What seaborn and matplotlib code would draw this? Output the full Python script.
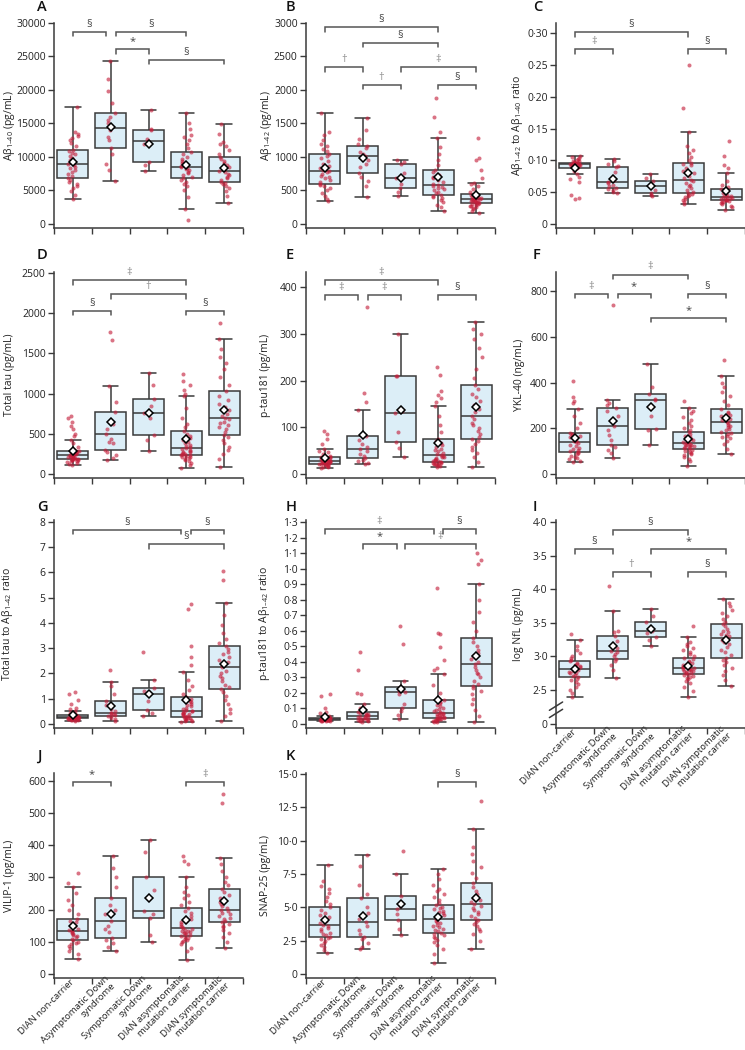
import matplotlib
matplotlib.use("Agg")
import matplotlib.pyplot as plt
import numpy as np
import pandas as pd
import seaborn as sns
from matplotlib.ticker import FixedLocator, FuncFormatter

# groups on the x axis
groups = ["DIAN non-carrier", "Asymptomatic Down\nsyndrome", "Symptomatic Down\nsyndrome",
          "DIAN asymptomatic\nmutation carrier", "DIAN symptomatic\nmutation carrier"]

# ---- values, one list per group ----
abeta40 = [
    [3750, 4300, 4900, 5300, 5700, 6000, 6300, 6600, 6800, 7100, 7400, 7700, 8000, 8300, 8500, 8800, 9000,
     9300, 9600, 9900, 10200, 10400, 10600, 10900, 11100, 11600, 12100, 12500, 12800, 13200, 13500, 13700, 17500],
    [6350, 8000, 9000, 10500, 11400, 12500, 13000, 14000, 14400, 15000, 15500, 16000, 16600, 18000, 19800, 21700, 24300],
    [7900, 8800, 9200, 11900, 12400, 12700, 14000, 14200, 17000],
    [650, 2250, 4000, 5000, 5600, 6000, 6300, 6600, 6800, 7000, 7300, 7600, 7800, 8000, 8200, 8400, 8500,
     8700, 8900, 9100, 9400, 9700, 10000, 10400, 10750, 11300, 11900, 12500, 13000, 13300, 14200, 15000, 16500],
    [3100, 4200, 4900, 5300, 5600, 5900, 6100, 6300, 6600, 6800, 7000, 7300, 7500, 7700, 7900, 8200, 8500,
     8800, 9100, 9400, 9700, 10000, 10500, 11000, 11600, 12000, 12200, 13500, 14850],
]
abeta42 = [
    [340, 380, 420, 460, 500, 530, 560, 580, 600, 620, 650, 680, 700, 720, 740, 770, 790, 810, 840, 870, 900,
     940, 980, 1010, 1050, 1090, 1120, 1160, 1200, 1260, 1330, 1380, 1660],
    [410, 560, 640, 700, 760, 850, 900, 960, 1010, 1050, 1080, 1130, 1170, 1200, 1270, 1400, 1580],
    [420, 480, 530, 600, 690, 760, 890, 920, 950],
    [200, 250, 290, 330, 360, 390, 410, 425, 440, 460, 480, 500, 520, 540, 555, 570, 580, 600, 620, 650, 680,
     700, 730, 770, 800, 880, 960, 1050, 1150, 1290, 1380, 1600, 1880],
    [170, 200, 220, 240, 255, 265, 275, 285, 295, 300, 310, 318, 325, 332, 338, 344, 350, 355, 360, 365, 370,
     377, 384, 390, 396, 403, 410, 418, 425, 435, 445, 480, 520, 560, 590, 610, 680, 800, 960, 980, 1290],
]
abeta_ratio = [
    [0.040, 0.041, 0.046, 0.066, 0.070, 0.074, 0.079, 0.084, 0.0876, 0.089, 0.090, 0.091, 0.0915, 0.092, 0.0925,
     0.0932, 0.094, 0.0945, 0.0948, 0.0951, 0.0954, 0.0957, 0.096, 0.0962, 0.0965, 0.0975, 0.0985, 0.0995,
     0.1005, 0.1015, 0.103, 0.105, 0.107],
    [0.048, 0.051, 0.053, 0.055, 0.056, 0.059, 0.062, 0.064, 0.0665, 0.069, 0.074, 0.082, 0.089, 0.091, 0.095,
     0.099, 0.102],
    [0.0445, 0.046, 0.048, 0.054, 0.059, 0.063, 0.067, 0.073, 0.079],
    [0.0315, 0.035, 0.038, 0.040, 0.042, 0.044, 0.045, 0.047, 0.048, 0.050, 0.053, 0.056, 0.059, 0.062, 0.064,
     0.067, 0.069, 0.072, 0.076, 0.080, 0.084, 0.088, 0.092, 0.095, 0.0965, 0.101, 0.106, 0.111, 0.117, 0.123,
     0.145, 0.183, 0.25],
    [0.022, 0.026, 0.029, 0.031, 0.033, 0.034, 0.035, 0.036, 0.037, 0.038, 0.0385, 0.039, 0.040, 0.041, 0.0415,
     0.042, 0.043, 0.044, 0.045, 0.046, 0.048, 0.050, 0.052, 0.054, 0.055, 0.058, 0.062, 0.068, 0.080, 0.088,
     0.093, 0.107, 0.130],
]
total_tau = [
    [110, 125, 140, 150, 158, 165, 170, 175, 178, 182, 185, 190, 195, 200, 205, 210, 215, 220, 225, 230, 235,
     240, 245, 250, 255, 260, 265, 270, 276, 283, 290, 340, 380, 425, 470, 500, 560, 600, 640, 690, 720],
    [175, 200, 240, 270, 295, 380, 400, 440, 500, 560, 620, 650, 765, 900, 1095, 1660, 1760],
    [285, 420, 490, 700, 760, 850, 935, 1100, 1260],
    [70, 110, 140, 160, 175, 185, 195, 205, 212, 220, 230, 238, 245, 252, 260, 268, 276, 285, 295, 308, 320,
     335, 350, 365, 380, 400, 420, 445, 470, 500, 530, 580, 620, 700, 820, 965, 1000, 1040, 1100, 1160, 1240],
    [90, 180, 250, 300, 340, 380, 420, 460, 485, 520, 560, 590, 610, 630, 650, 680, 700, 720, 750, 790, 830,
     870, 920, 970, 1025, 1100, 1200, 1300, 1380, 1450, 1550, 1680, 1880],
]
ptau181 = [
    [12, 14, 15, 16, 17, 18, 19, 20, 20.5, 21, 22, 23, 23.5, 24, 24.5, 25, 26, 26.5, 27, 27.5, 28, 28.5, 29,
     29.5, 30, 30.5, 31, 32, 33, 34, 35, 37, 39, 42, 46, 50, 54, 65, 75, 85, 92],
    [20, 24, 28, 30, 33, 38, 42, 48, 53, 58, 64, 72, 81, 136, 155, 173, 358],
    [36, 55, 69, 90, 130, 135, 210, 210, 300],
    [15, 17, 18, 19, 20, 21, 22, 23, 24, 25, 26, 27, 28, 29, 30, 32, 33, 35, 36, 38, 40, 42, 45, 48, 51, 54,
     58, 62, 66, 70, 75, 90, 105, 125, 145, 155, 163, 170, 178, 212, 230],
    [15, 25, 35, 45, 52, 58, 64, 70, 75, 80, 86, 92, 98, 104, 110, 117, 125, 132, 140, 148, 156, 164, 172, 181,
     190, 205, 225, 250, 270, 290, 300, 310, 325],
]
ykl40 = [
    [50, 58, 65, 70, 75, 80, 85, 90, 95, 100, 105, 110, 115, 120, 128, 135, 140, 145, 150, 155, 160, 165, 170,
     175, 180, 200, 225, 255, 285, 310, 320, 335, 405],
    [68, 90, 105, 118, 126, 150, 170, 190, 208, 230, 255, 275, 288, 300, 312, 322, 740],
    [125, 190, 198, 255, 322, 330, 350, 380, 480],
    [35, 55, 65, 75, 82, 88, 93, 98, 102, 106, 110, 113, 116, 119, 121, 123, 125, 127, 129, 132, 135, 138, 141,
     145, 149, 153, 158, 163, 168, 175, 182, 190, 200, 210, 222, 235, 250, 265, 275, 288, 320],
    [85, 110, 130, 145, 155, 162, 168, 173, 178, 185, 192, 198, 204, 210, 216, 222, 228, 234, 240, 246, 252,
     258, 265, 273, 282, 300, 320, 340, 360, 380, 400, 430, 497],
]
tau_abeta42 = [
    [0.12, 0.14, 0.15, 0.16, 0.17, 0.18, 0.19, 0.2, 0.205, 0.21, 0.22, 0.225, 0.23, 0.235, 0.24, 0.245, 0.25,
     0.255, 0.26, 0.265, 0.27, 0.275, 0.28, 0.29, 0.3, 0.305, 0.31, 0.32, 0.325, 0.33, 0.34, 0.37, 0.41, 0.45,
     0.5, 0.6, 0.65, 0.8, 0.95, 1.2, 1.27],
    [0.13, 0.2, 0.25, 0.3, 0.33, 0.36, 0.4, 0.42, 0.45, 0.5, 0.6, 0.75, 0.9, 1.2, 1.5, 1.67, 2.15],
    [0.3, 0.45, 0.55, 0.9, 1.2, 1.3, 1.43, 1.75, 2.85],
    [0.08, 0.1, 0.12, 0.14, 0.16, 0.18, 0.2, 0.22, 0.24, 0.26, 0.28, 0.3, 0.32, 0.35, 0.38, 0.4, 0.42, 0.45,
     0.48, 0.5, 0.53, 0.56, 0.6, 0.65, 0.7, 0.75, 0.8, 0.86, 0.92, 0.98, 1.05, 1.2, 1.35, 1.5, 1.75, 2.07,
     2.35, 2.65, 3.1, 4.55, 4.75],
    [0.1, 0.3, 0.45, 0.6, 0.8, 0.95, 1.1, 1.25, 1.37, 1.45, 1.55, 1.7, 1.8, 1.9, 2.0, 2.1, 2.24, 2.35, 2.45,
     2.55, 2.65, 2.75, 2.85, 2.98, 3.08, 3.2, 3.35, 3.6, 3.9, 4.3, 4.8, 5.7, 6.05],
]
ptau_abeta42 = [
    [0.018, 0.02, 0.021, 0.022, 0.023, 0.024, 0.025, 0.0255, 0.026, 0.0265, 0.027, 0.0275, 0.028, 0.0285,
     0.029, 0.0295, 0.03, 0.0305, 0.031, 0.0315, 0.032, 0.0325, 0.033, 0.0335, 0.034, 0.0345, 0.035, 0.0355,
     0.036, 0.0365, 0.037, 0.039, 0.042, 0.046, 0.05, 0.06, 0.07, 0.08, 0.1, 0.18, 0.19],
    [0.015, 0.018, 0.021, 0.024, 0.026, 0.028, 0.03, 0.034, 0.038, 0.042, 0.045, 0.048, 0.052, 0.055, 0.058,
     0.062, 0.066, 0.07, 0.076, 0.1, 0.128, 0.19, 0.2, 0.345, 0.465],
    [0.035, 0.06, 0.085, 0.1, 0.13, 0.19, 0.205, 0.215, 0.225, 0.238, 0.275, 0.515, 0.63],
    [0.012, 0.015, 0.018, 0.021, 0.024, 0.027, 0.029, 0.031, 0.033, 0.035, 0.037, 0.04, 0.043, 0.046, 0.05,
     0.054, 0.058, 0.062, 0.065, 0.068, 0.072, 0.077, 0.083, 0.09, 0.097, 0.105, 0.113, 0.122, 0.132, 0.142,
     0.152, 0.2, 0.25, 0.32, 0.35, 0.36, 0.41, 0.495, 0.58, 0.585, 0.875],
    [0.013, 0.05, 0.09, 0.13, 0.16, 0.19, 0.21, 0.23, 0.245, 0.26, 0.28, 0.3, 0.32, 0.33, 0.35, 0.37, 0.385,
     0.4, 0.42, 0.44, 0.46, 0.48, 0.5, 0.53, 0.553, 0.6, 0.66, 0.72, 0.8, 0.9, 1.03, 1.06, 1.1],
]
log_nfl = [
    [2.39, 2.45, 2.5, 2.55, 2.59, 2.62, 2.65, 2.67, 2.69, 2.71, 2.73, 2.75, 2.76, 2.77, 2.79, 2.8, 2.82, 2.83,
     2.84, 2.85, 2.86, 2.87, 2.89, 2.91, 2.93, 2.95, 2.98, 3.0, 3.05, 3.1, 3.15, 3.24, 3.33],
    [2.68, 2.8, 2.88, 2.93, 2.96, 3.0, 3.03, 3.06, 3.08, 3.12, 3.17, 3.23, 3.3, 3.36, 3.38, 3.68, 4.05],
    [3.16, 3.25, 3.29, 3.35, 3.38, 3.42, 3.51, 3.6, 3.71],
    [2.4, 2.48, 2.55, 2.6, 2.63, 2.66, 2.68, 2.7, 2.71, 2.72, 2.74, 2.75, 2.76, 2.77, 2.78, 2.79, 2.8, 2.805,
     2.81, 2.82, 2.83, 2.84, 2.85, 2.86, 2.87, 2.88, 2.9, 2.92, 2.94, 2.955, 2.97, 3.0, 3.03, 3.06, 3.09, 3.12,
     3.15, 3.18, 3.22, 3.29, 3.46],
    [2.56, 2.65, 2.72, 2.78, 2.83, 2.88, 2.92, 2.95, 2.98, 3.02, 3.06, 3.1, 3.14, 3.18, 3.21, 3.24, 3.27, 3.3,
     3.32, 3.34, 3.36, 3.38, 3.41, 3.45, 3.48, 3.52, 3.56, 3.6, 3.65, 3.7, 3.75, 3.8, 3.86],
]
vilip1 = [
    [48, 62, 72, 80, 86, 92, 96, 100, 105, 110, 114, 118, 121, 124, 127, 130, 133, 137, 141, 145, 150, 155, 160,
     166, 172, 185, 200, 215, 230, 250, 270, 283, 315],
    [70, 85, 95, 105, 113, 130, 140, 150, 166, 185, 200, 215, 236, 270, 300, 330, 365],
    [100, 120, 173, 185, 196, 260, 302, 380, 415],
    [42, 70, 82, 92, 98, 103, 107, 110, 113, 115, 117, 120, 123, 126, 128, 130, 132, 135, 137, 140, 142, 146,
     150, 155, 160, 166, 172, 180, 188, 196, 204, 215, 225, 235, 245, 255, 270, 302, 340, 350, 365],
    [82, 100, 115, 128, 137, 145, 150, 155, 160, 165, 170, 175, 180, 185, 190, 195, 200, 206, 212, 218, 225,
     235, 245, 255, 265, 275, 285, 300, 320, 340, 360, 530, 560],
]
snap25 = [
    [1.55, 1.8, 2.0, 2.2, 2.35, 2.5, 2.6, 2.7, 2.8, 2.9, 3.0, 3.1, 3.2, 3.35, 3.45, 3.6, 3.7, 3.85, 4.0, 4.1,
     4.25, 4.4, 4.6, 4.8, 5.0, 5.25, 5.5, 5.8, 6.1, 6.4, 6.6, 7.0, 8.15],
    [1.9, 2.0, 2.3, 2.6, 2.8, 3.0, 3.3, 3.6, 3.9, 4.1, 4.6, 5.0, 5.7, 6.0, 6.7, 8.1, 8.9],
    [2.95, 3.4, 4.05, 4.5, 4.85, 5.1, 5.85, 7.5, 9.25],
    [0.8, 1.5, 1.9, 2.2, 2.4, 2.55, 2.7, 2.8, 2.9, 3.0, 3.1, 3.2, 3.3, 3.4, 3.5, 3.6, 3.7, 3.8, 3.9, 4.0, 4.15,
     4.25, 4.35, 4.45, 4.55, 4.65, 4.75, 4.85, 4.95, 5.05, 5.15, 5.35, 5.55, 5.75, 6.0, 6.2, 6.4, 6.7, 7.1,
     7.5, 7.9],
    [1.9, 2.5, 3.0, 3.2, 3.4, 3.6, 3.75, 3.9, 4.05, 4.2, 4.35, 4.5, 4.65, 4.8, 4.95, 5.1, 5.25, 5.4, 5.55, 5.7,
     5.85, 6.0, 6.25, 6.55, 6.85, 7.2, 7.6, 8.0, 8.5, 9.0, 9.5, 10.85, 13.0],
]

# significance brackets: (from, to, height, symbol)
abeta40_brackets = [(0, 0.88, 28700, "§"), (1.14, 3, 28700, "§"), (1.14, 2, 26100, "*"), (2, 4, 24500, "§")]
abeta42_brackets = [(0, 3, 2934, "§"), (1, 3, 2704, "§"), (0, 1, 2338, "†"), (2, 4, 2338, "‡"),
                    (1, 2, 2078, "†"), (3, 4, 2078, "§")]
ratio_brackets = [(0, 3, 0.3016, "§"), (0, 1, 0.2748, "‡"), (3, 4, 0.2748, "§")]
tau_brackets = [(0, 3, 2409, "‡"), (1, 3, 2231, "†"), (0, 1, 2028, "§"), (3, 4, 2028, "§")]
ptau_brackets = [(0, 3, 415, "‡"), (0, 0.88, 383, "‡"), (1.13, 2, 383, "‡"), (3, 4, 383, "§")]
ykl_brackets = [(1, 3, 873, "‡"), (0, 0.88, 788, "‡"), (1.13, 2, 788, "*"), (3, 4, 788, "§"), (2, 4, 683, "*")]
tau_ratio_brackets = [(0, 2.87, 7.69, "§"), (3.12, 4, 7.69, "§"), (2, 4, 7.11, "§")]
ptau_ratio_brackets = [(0, 2.88, 1.255, "‡"), (3.12, 4, 1.255, "§"), (1, 1.9, 1.158, "*"), (2.12, 4, 1.158, "‡")]
nfl_brackets = [(1, 3, 4.885, "§"), (0, 1, 4.6, "§"), (2, 4, 4.6, "*"), (1, 2, 4.26, "†"), (3, 4, 4.26, "§")]
vilip_brackets = [(0, 1, 597, "*"), (3, 4, 597, "‡")]
snap_brackets = [(3, 4, 14.4, "§")]

nfl_ticks = [1.993, 2.5, 3.0, 3.5, 4.0, 4.5, 5.0]
nfl_ticklabels = ["0", "2·5", "3·0", "3·5", "4·0", "3·5", "4·0"]

sub = lambda s: "$_{\\mathregular{" + s + "}}$"

# letter, values, brackets, y label, ylim, ticks, decimals, row, col
panels = [
    ("A", abeta40, abeta40_brackets, "Aβ" + sub("1–40") + " (pg/mL)", (-600, 30000), np.arange(0, 30001, 5000), 0, 0, 0),
    ("B", abeta42, abeta42_brackets, "Aβ" + sub("1–42") + " (pg/mL)", (-60, 3000), np.arange(0, 3001, 500), 0, 0, 1),
    ("C", abeta_ratio, ratio_brackets, "Aβ" + sub("1–42") + " to Aβ" + sub("1–40") + " ratio", (-0.0063, 0.316),
     np.arange(0, 0.301, 0.05), 2, 0, 2),
    ("D", total_tau, tau_brackets, "Total tau (pg/mL)", (-50, 2510), np.arange(0, 2501, 500), 0, 1, 0),
    ("E", ptau181, ptau_brackets, "p-tau181 (pg/mL)", (-9, 433), np.arange(0, 401, 100), 0, 1, 1),
    ("F", ykl40, ykl_brackets, "YKL-40 (ng/mL)", (-18, 884), np.arange(0, 801, 200), 0, 1, 2),
    ("G", tau_abeta42, tau_ratio_brackets, "Total tau to Aβ" + sub("1–42") + " ratio", (-0.16, 8.07),
     np.arange(0, 9, 1), 0, 2, 0),
    ("H", ptau_abeta42, ptau_ratio_brackets, "p-tau181 to Aβ" + sub("1–42") + " ratio", (-0.026, 1.315),
     np.arange(0, 1.31, 0.1), 1, 2, 1),
    ("I", log_nfl, nfl_brackets, "log NfL (pg/mL)", (1.934, 5.034), nfl_ticks, None, 2, 2),
    ("J", vilip1, vilip_brackets, "VILIP-1 (pg/mL)", (-12.4, 624), np.arange(0, 601, 100), 0, 3, 0),
    ("K", snap25, snap_brackets, "SNAP-25 (pg/mL)", (-0.3, 15.075), np.arange(0, 15.1, 2.5), 1, 3, 1),
]

# layout in pixels
W, H = 745, 1050
col_left = [54, 306, 556]
col_width = 189
row_top = [23, 272, 520, 773]
row_bottom = [228, 478, 728, 978]
ylabel_x = {"A": 12, "B": 269, "C": 520, "D": 10, "E": 266, "F": 520, "G": 10, "H": 267, "I": 519,
            "J": 10, "K": 266}
letter_x = [37, 286, 533]
letter_y = [7, 255, 507, 756]
bottom_panels = {"I", "J", "K"}

sns.set_style("ticks")
plt.rcParams["font.family"] = ["Open Sans", "DejaVu Sans"]
plt.rcParams["mathtext.fontset"] = "custom"
plt.rcParams["mathtext.rm"] = "Open Sans"
np.random.seed(3)

box_color = "#dceef7"
line_color = "#3a3a3a"
dot_color = "#c41e3a"
text_color = "#222222"

fig = plt.figure(figsize=(W / 100, H / 100), dpi=100)


def dec_formatter(d):
    def f(v, _):
        if abs(v) < 1e-9:
            return "0"
        return f"{v:.{d}f}".replace(".", "·")
    return FuncFormatter(f)


for letter, values, brackets, ylabel, ylim, ticks, decimals, row, col in panels:
    left = col_left[col]
    rect = [left / W, 1 - row_bottom[row] / H, col_width / W, (row_bottom[row] - row_top[row]) / H]
    ax = fig.add_axes(rect)

    df = pd.DataFrame({
        "group": np.repeat(groups, [len(v) for v in values]),
        "value": np.concatenate([np.asarray(v, dtype=float) for v in values]),
    })

    sns.boxplot(data=df, x="group", y="value", order=groups, color=box_color, linecolor=line_color,
                linewidth=1.1, width=0.82, showfliers=False, saturation=1, ax=ax)
    sns.stripplot(data=df, x="group", y="value", order=groups, color=dot_color, size=2.9, alpha=0.62,
                  jitter=0.15, linewidth=0, zorder=3, ax=ax)
    sns.pointplot(data=df, x="group", y="value", order=groups, estimator="mean", errorbar=None,
                  linestyle="none", marker="D", color="black", markersize=3.8, markerfacecolor="white",
                  markeredgecolor="black", markeredgewidth=1.1, zorder=5, ax=ax)

    ax.set_xlim(-0.5, 4.5)
    ax.set_ylim(*ylim)
    ax.set_xlabel("")
    ax.set_ylabel(ylabel, fontsize=7.5, color=text_color)
    ax.yaxis.set_label_coords((ylabel_x[letter] + 5 - left) / col_width, 0.5)

    ax.yaxis.set_major_locator(FixedLocator(ticks))
    if letter == "I":
        ax.set_yticklabels(nfl_ticklabels)
    elif decimals:
        ax.yaxis.set_major_formatter(dec_formatter(decimals))
    else:
        ax.yaxis.set_major_formatter(FuncFormatter(lambda v, _: f"{v:.0f}"))

    ax.set_xticks(range(5))
    ax.set_xticks(np.arange(-0.5, 5, 1), minor=True)
    if letter in bottom_panels:
        ax.set_xticklabels(groups, rotation=45, ha="right", va="center", rotation_mode="anchor",
                           fontsize=6.8, color=text_color, linespacing=1.15)
    else:
        ax.set_xticklabels([])
    ax.tick_params(axis="x", which="major", length=0, pad=2)
    ax.tick_params(axis="x", which="minor", length=4, width=1, color=line_color)
    ax.tick_params(axis="y", length=4, width=1, color=line_color, labelsize=7.5, labelcolor=text_color, pad=2)
    for side in ("left", "bottom"):
        ax.spines[side].set_linewidth(1.1)
        ax.spines[side].set_color(line_color)
    sns.despine(ax=ax)

    # significance brackets
    drop = 0.022 * (ylim[1] - ylim[0])
    for x1, x2, y, sym in brackets:
        ax.plot([x1, x1, x2, x2], [y - drop, y, y, y - drop], color="#555555", lw=1.1,
                solid_joinstyle="miter", clip_on=False, zorder=6)
        ax.annotate(sym, xy=((x1 + x2) / 2, y), xytext=(0, 1.5), textcoords="offset points",
                    ha="center", va="bottom", fontsize=8,
                    color="#8c8c8c" if sym in "†‡" else "#444444")

    if letter == "I":
        for yb in (0.07, 0.105):
            ax.plot([-0.035, 0.035], [yb - 0.02, yb + 0.02], transform=ax.transAxes, color=line_color,
                    lw=1.1, clip_on=False, zorder=7)

    fig.text(letter_x[col] / W, 1 - letter_y[row] / H, letter, fontsize=10.5, fontweight="semibold",
             ha="left", va="center", color="#111111")

fig.savefig("out.png", dpi=100)
